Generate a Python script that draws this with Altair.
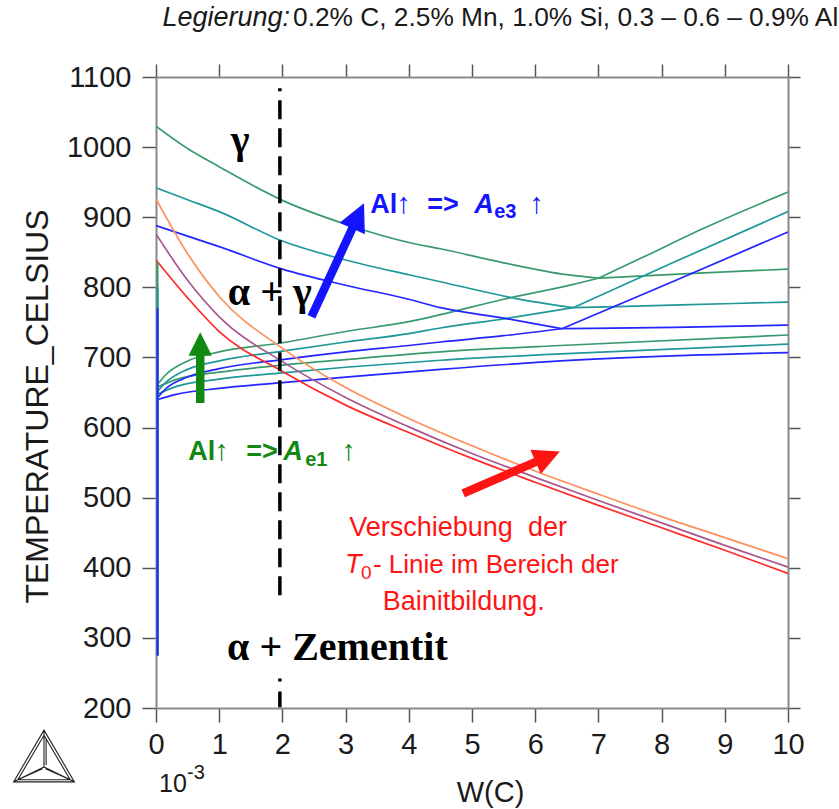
import math
import altair as alt
import pandas as pd

# ---------------------------------------------------------------------------
# Phase boundaries, W(C) in units of 1e-3, temperature in deg C
# three Al levels: 0.9 % (green), 0.6 % (teal), 0.3 % (blue)
# ---------------------------------------------------------------------------
# A_e3 (gamma / alpha+gamma), descending to the three-phase point
g_ae3_x = [0, 0.5, 1, 2, 3, 4, 4.5, 5.5, 6.5, 7.0]
g_ae3_y = [1030, 998, 972, 924, 890, 864, 855, 835, 818, 813]
t_ae3_x = [0, 0.5, 1, 2, 3, 4, 4.5, 5.7, 6.6]
t_ae3_y = [942, 925, 908, 866, 839, 818, 808, 784, 771]
b_ae3_x = [0, 0.5, 1, 2, 3, 4, 4.5, 5.5, 6.42]
b_ae3_y = [888, 873, 858, 826, 803, 783, 771, 756, 741]

# A_cm (gamma / gamma+cementite), rising from the three-phase point
g_acm_x = [7.0, 7.66, 8.71, 10]
g_acm_y = [813, 841, 886, 936]
t_acm_x = [6.6, 8.2, 10]
t_acm_y = [771, 836, 908]
b_acm_x = [6.42, 8.2, 10]
b_acm_y = [741, 809, 879]

# upper limit of alpha+gamma+cementite (flat branch to the right)
g_flat_x = [7.0, 8.5, 10]
g_flat_y = [813, 820, 826]
t_flat_x = [6.6, 8.3, 10]
t_flat_y = [771, 775, 779]
b_flat_x = [6.42, 8.2, 10]
b_flat_y = [741, 743, 746]

# alpha+gamma / alpha+gamma+cementite, rising to the three-phase point
g_up_x = [0.03, 0.15, 0.5, 1, 2, 3, 4, 4.5, 5.5, 6.45, 7.0]
g_up_y = [662, 675, 695, 708, 721, 737, 751, 761, 783, 801, 813]
t_up_x = [0.03, 0.15, 0.5, 1, 2, 3, 4, 4.5, 5.5, 6.6]
t_up_y = [652, 664, 683, 695, 709, 722, 734, 742, 755, 771]
b_up_x = [0.03, 0.15, 0.5, 1, 2, 3, 4, 4.5, 5.5, 6.42]
b_up_y = [643, 655, 672, 684, 697, 708, 717, 722, 731, 741]

# A_e1 (alpha+cementite / alpha+gamma+cementite)
g_ae1_x = [0.03, 0.3, 1, 2, 3, 4.5, 6.4, 10]
g_ae1_y = [658, 668, 679, 689, 697, 708, 717, 732]
t_ae1_x = [0.03, 0.3, 1, 2, 3, 4.5, 6.4, 10]
t_ae1_y = [648, 658, 669, 678, 686, 696, 705, 719]
b_ae1_x = [0.03, 0.3, 1, 2, 3, 4.5, 6.4, 10]
b_ae1_y = [640, 647, 656, 664, 672, 683, 695, 707]

# ferrite solvus, almost on the temperature axis
g_fer_x = [0.025, 0.025]
g_fer_y = [275, 836]
t_fer_x = [0.025, 0.025]
t_fer_y = [275, 800]
b_fer_x = [0.025, 0.025]
b_fer_y = [275, 770]

# T0 lines
t0_x = [0, 0.5, 1, 2, 3, 4, 5, 6, 7, 8, 9, 10]
t0_red_y = [839, 785, 737, 680, 632, 593, 556, 522, 489, 457, 425, 392]
t0_purple_y = [876, 810, 758, 694, 643, 601, 563, 529, 496, 464, 432, 401]
t0_orange_y = [926, 848, 787, 713, 657, 613, 574, 538, 505, 473, 443, 413]

# dashed marker at W(C) = 1.96e-3 (interrupted by the alpha + cementite label)
dash_x = [1.96, 1.96]
dash_top_y = [1084, 242]
dash_bot_y = [354, 201]

# arrows: tail and tip in data units
arrow_names = ["Ae3", "Ae1", "T0"]
arrow_x0 = [2.46, 0.70, 4.86]
arrow_y0 = [758, 635, 506]
arrow_x1 = [3.29, 0.70, 6.39]
arrow_y1 = [920, 736, 566]

# tick values
x_ticks = list(range(0, 11))
y_ticks = list(range(200, 1101, 100))

# ---------------------------------------------------------------------------
W, H = 632, 631
X0, X1, Y0, Y1 = 0, 10, 200, 1100
PX_X = W / (X1 - X0)
PX_Y = H / (Y1 - Y0)

GREEN, TEAL, BLUE = "#3a9a6e", "#1f9898", "#2424ff"
RED, PURPLE, ORANGE = "#ff2a2a", "#a8588c", "#ff8f5c"
ANN_BLUE, ANN_GREEN, ANN_RED = "#1414ff", "#118811", "#ff1414"
SANS, SERIF = "Liberation Sans", "Liberation Serif"
INK = "#1a1a1a"
NB = "\u00a0"

curves = [
    ("g_ae3", g_ae3_x, g_ae3_y, GREEN), ("g_acm", g_acm_x, g_acm_y, GREEN),
    ("g_flat", g_flat_x, g_flat_y, GREEN), ("g_up", g_up_x, g_up_y, GREEN),
    ("g_ae1", g_ae1_x, g_ae1_y, GREEN),
    ("t_ae3", t_ae3_x, t_ae3_y, TEAL), ("t_acm", t_acm_x, t_acm_y, TEAL),
    ("t_flat", t_flat_x, t_flat_y, TEAL), ("t_up", t_up_x, t_up_y, TEAL),
    ("t_ae1", t_ae1_x, t_ae1_y, TEAL),
    ("b_ae3", b_ae3_x, b_ae3_y, BLUE), ("b_acm", b_acm_x, b_acm_y, BLUE),
    ("b_flat", b_flat_x, b_flat_y, BLUE), ("b_up", b_up_x, b_up_y, BLUE),
    ("b_ae1", b_ae1_x, b_ae1_y, BLUE),
]
verticals = [
    ("g_fer", g_fer_x, g_fer_y, GREEN),
    ("t_fer", t_fer_x, t_fer_y, TEAL),
    ("b_fer", b_fer_x, b_fer_y, BLUE),
]
t0_curves = [
    ("t0_orange", t0_x, t0_orange_y, ORANGE),
    ("t0_purple", t0_x, t0_purple_y, PURPLE),
    ("t0_red", t0_x, t0_red_y, RED),
]


def table(items):
    rows = []
    for k, (name, xs_, ys_, col) in enumerate(items):
        for i, (a, b) in enumerate(zip(xs_, ys_)):
            rows.append({"curve": f"{k:02d}_{name}", "x": a, "y": b, "i": i,
                         "col": col})
    return pd.DataFrame(rows)


xs = alt.Scale(domain=[X0, X1], nice=False, zero=False)
ys = alt.Scale(domain=[Y0, Y1], nice=False, zero=False)

axis_common = dict(
    grid=False, domainColor="#8a8a8a", domainWidth=2, tickColor="#555555",
    tickWidth=1.5, labelColor=INK, labelFont=SANS, labelFontSize=29,
    labelFlush=False, titleFont=SANS, titleFontWeight="normal", titleColor=INK,
)
x_axis = alt.Axis(values=x_ticks, tickSize=14, labelPadding=8, title="W(C)",
                  format="d", titleFontSize=29, titleX=334, titleY=93,
                  titleBaseline="alphabetic", titleAlign="center", **axis_common)
y_axis = alt.Axis(values=y_ticks, tickSize=14, labelPadding=11, format="d",
                  title="TEMPERATURE_CELSIUS", titleFontSize=32, titleAngle=270,
                  titleX=-109, titleY=329, titleAlign="center",
                  titleBaseline="alphabetic", **axis_common)
x_top = alt.Axis(values=x_ticks, orient="top", tickSize=13, labels=False,
                 title=None, grid=False, domainColor="#8a8a8a", domainWidth=2,
                 tickColor="#555555", tickWidth=1.5)
y_right = alt.Axis(values=y_ticks, orient="right", tickSize=12, labels=False,
                   title=None, grid=False, domainColor="#8a8a8a", domainWidth=2,
                   tickColor="#555555", tickWidth=1.5)

phase = alt.Chart(table(curves)).mark_line(
    interpolate="monotone", strokeWidth=1.7, clip=True
).encode(
    x=alt.X("x:Q", scale=xs, axis=x_axis),
    y=alt.Y("y:Q", scale=ys, axis=y_axis),
    color=alt.Color("col:N", scale=None),
    detail="curve:N", order="i:Q",
)

t0 = alt.Chart(table(t0_curves)).mark_line(
    interpolate="monotone", strokeWidth=1.7, clip=True
).encode(
    x=alt.X("x:Q", scale=xs, axis=x_top),
    y=alt.Y("y:Q", scale=ys, axis=y_right),
    color=alt.Color("col:N", scale=None),
    detail="curve:N", order="i:Q",
)

fer = alt.Chart(table(verticals)).mark_line(strokeWidth=2, clip=True).encode(
    x=alt.X("x:Q", scale=xs, axis=None),
    y=alt.Y("y:Q", scale=ys, axis=None),
    color=alt.Color("col:N", scale=None),
    detail="curve:N", order="i:Q",
)

dash_df = pd.DataFrame({"x": dash_x, "y": dash_top_y, "y2": dash_bot_y,
                        "seg": ["upper", "lower"]})
dash_upper = alt.Chart(dash_df.iloc[:1]).mark_rule(
    color="black", strokeWidth=3.5, strokeDash=[19, 9], strokeDashOffset=16
).encode(
    x=alt.X("x:Q", scale=xs, axis=None),
    y=alt.Y("y:Q", scale=ys, axis=None),
    y2="y2:Q",
)
dash_lower = alt.Chart(dash_df.iloc[1:]).mark_rule(
    color="black", strokeWidth=3.5, strokeDash=[3, 10, 19, 9]
).encode(
    x=alt.X("x:Q", scale=xs, axis=None),
    y=alt.Y("y:Q", scale=ys, axis=None),
    y2="y2:Q",
)

# arrows: shaft stops at the base of the head, head is a custom symbol with
# its tip at the symbol origin
head_len = [27, 23, 26]
head_size = [3100, 2200, 2800]
arrow_col = [ANN_BLUE, ANN_GREEN, ANN_RED]
rows = []
for n, a0, b0, a1, b1, hl, hs, c in zip(arrow_names, arrow_x0, arrow_y0,
                                         arrow_x1, arrow_y1, head_len,
                                         head_size, arrow_col):
    dxp = (a1 - a0) * PX_X
    dyp = (b1 - b0) * PX_Y
    L = math.hypot(dxp, dyp)
    ux, uy = dxp / L, dyp / L
    xe = a1 - ux * (hl - 3) / PX_X
    ye = b1 - uy * (hl - 3) / PX_Y
    ang = math.degrees(math.atan2(dxp, dyp)) % 360
    rows.append({"name": n, "x0": a0, "y0": b0, "x1": a1, "y1": b1,
                 "xe": xe, "ye": ye, "angle": ang, "size": hs, "col": c})
arr_df = pd.DataFrame(rows)

shafts = alt.Chart(arr_df).mark_rule(strokeWidth=8.5).encode(
    x=alt.X("x0:Q", scale=xs, axis=None),
    y=alt.Y("y0:Q", scale=ys, axis=None),
    x2="xe:Q", y2="ye:Q",
    color=alt.Color("col:N", scale=None),
)
heads = alt.Chart(arr_df).mark_point(
    shape="M0,0L0.5,1L-0.5,1Z", filled=True, opacity=1, strokeWidth=0
).encode(
    x=alt.X("x1:Q", scale=xs, axis=None),
    y=alt.Y("y1:Q", scale=ys, axis=None),
    angle=alt.Angle("angle:Q", scale=None),
    size=alt.Size("size:Q", scale=None),
    color=alt.Color("col:N", scale=None),
)


def label(txt, x, y, colour="black", size=28, font=SANS, weight="normal",
          style="normal", align="left", dx=0, dy=0):
    return alt.Chart(pd.DataFrame({"t": [txt], "x": [x], "y": [y]})).mark_text(
        align=align, baseline="alphabetic", font=font, fontSize=size,
        fontWeight=weight, fontStyle=style, color=colour, dx=dx, dy=dy
    ).encode(
        x=alt.X("x:Q", scale=xs, axis=None),
        y=alt.Y("y:Q", scale=ys, axis=None),
        text="t:N",
    )


def px_label(txt, px, py, colour=INK, size=28, font=SANS, weight="normal",
             style="normal", align="left", baseline="alphabetic"):
    return alt.Chart(pd.DataFrame({"t": [txt]})).mark_text(
        align=align, baseline=baseline, font=font, fontSize=size,
        fontWeight=weight, fontStyle=style, color=colour
    ).encode(x=alt.value(px), y=alt.value(py), text="t:N")


texts = [
    # phase fields
    label("γ", 1.33, 992, size=40, font=SERIF, weight="bold", align="center"),
    label("α + γ", 1.80, 775, size=40, font=SERIF, weight="bold", align="center"),
    label("α + Zementit", 2.87, 268, size=40, font=SERIF, weight="bold",
          align="center"),
    # Ae3 note
    label("Al", 3.39, 906, ANN_BLUE, 27, weight="bold"),
    label("↑", 3.39, 906, ANN_BLUE, 29, dx=26),
    label("=>", 3.39, 906, ANN_BLUE, 27, weight="bold", dx=57),
    label("A", 3.39, 906, ANN_BLUE, 27, weight="bold", style="italic", dx=104),
    label("e3", 3.39, 906, ANN_BLUE, 20, weight="bold", dx=124, dy=5),
    label("↑", 3.39, 906, ANN_BLUE, 29, dx=159),
    # Ae1 note
    label("Al", 0.51, 554, ANN_GREEN, 27, weight="bold"),
    label("↑", 0.51, 554, ANN_GREEN, 29, dx=26),
    label("=>", 0.51, 554, ANN_GREEN, 27, weight="bold", dx=58),
    label("A", 0.51, 554, ANN_GREEN, 27, weight="bold", style="italic", dx=95),
    label("e1", 0.51, 554, ANN_GREEN, 20, weight="bold", dx=117, dy=6),
    label("↑", 0.51, 554, ANN_GREEN, 29, dx=153),
    # T0 note
    label(f"Verschiebung{NB}{NB}der", 4.78, 445, ANN_RED, 27, align="center"),
    label("T", 2.99, 392, ANN_RED, 27, style="italic"),
    label("0", 2.99, 392, ANN_RED, 19, dx=16, dy=6),
    label("- Linie  im Bereich der", 2.99, 392, ANN_RED, 26, dx=28),
    label("Bainitbildung.", 4.87, 340, ANN_RED, 27, align="center"),
]

# header, exponent and logo, placed in pixels around the plot area
header = [
    px_label("Legierung:", 134, -51, INK, 27, style="italic", align="right"),
    px_label("0.2% C, 2.5% Mn, 1.0% Si, 0.3 – 0.6 – 0.9% Al", 137, -51,
             INK, 26.3),
    px_label("10", 3, 715, INK, 25),
    px_label("-3", 31, 702, INK, 20),
]
logo_path = ("M0,-0.85L1,0.85L-1,0.85Z"
             "M0,-0.68L0.86,0.78L-0.86,0.78Z"
             "M0,-0.85L0,0.36M-1,0.85L0,0.36M1,0.85L0,0.36"
             "M0.07,-0.6L0.07,0.3M-0.86,0.78L-0.05,0.42M0.86,0.78L0.05,0.42")
logo = alt.Chart(pd.DataFrame({"k": [0]})).mark_point(
    shape=logo_path, filled=False, stroke="#222222", strokeWidth=1.1,
    size=3700, opacity=1
).encode(x=alt.value(-112), y=alt.value(679))

chart = alt.layer(
    phase, t0, fer, dash_upper, dash_lower, shafts, heads, *texts, *header, logo
).resolve_axis(x="independent", y="independent").properties(
    width=W, height=H,
    autosize=alt.AutoSizeParams(type="none"),
    padding={"left": 156, "top": 77, "right": 51, "bottom": 101},
).configure_view(stroke=None).configure(background="white")

chart.save("out.html", embed_options={"renderer": "svg", "actions": False})
